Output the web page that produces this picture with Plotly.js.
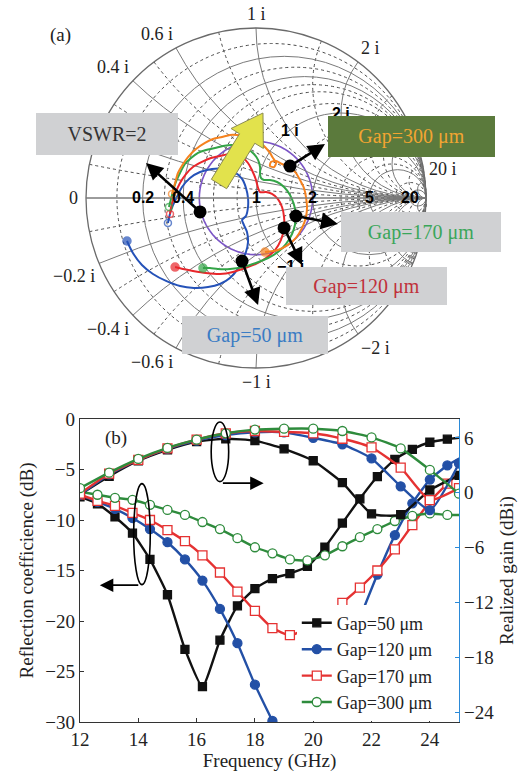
<!DOCTYPE html>
<html><head><meta charset="utf-8">
<script src="https://cdn.plot.ly/plotly-3.0.1.min.js"></script>
<style>html,body{margin:0;padding:0;background:#fff}#chart{width:530px;height:776px}</style>
</head><body><div id="chart"></div>
<script>
// ================= (b) data =================
const freqRefl = [12,12.6,13.2,13.8,14.4,15,15.6,16.2,16.8,17.4,18,18.6,19.2,19.8,20.4,21,21.6,22.2,22.8,23.4,24,24.6,25.2];
const freqGain = [12,13,14,15,16,17,18,19,20,21,22,23,24,25];
const refl50  = [-7.7,-8.4,-9.7,-11.3,-13.9,-17.4,-22.8,-26.5,-21.9,-18.5,-16.8,-15.8,-15.3,-14.6,-12.7,-10.3,-7.9,-5.7,-4.0,-3.0,-2.3,-2.0,-1.8];
const refl120 = [-7.5,-8.2,-8.9,-9.8,-10.9,-12.2,-13.9,-16.0,-18.8,-22.2,-26.3,-29.9,-33.5,null,null,null,-19.7,-15.4,-11.5,-8.35,-6.0,-4.6,-3.6];
const refl170 = [-7.5,-8.1,-8.6,-9.3,-10.0,-11.0,-12.1,-13.5,-15.2,-17.1,-19.0,-20.7,-21.4,-20.7,-19.6,-18.2,-16.7,-15.0,-12.9,-10.5,-8.2,-6.4,-4.8];
const refl300 = [-7.2,-7.5,-7.8,-8.0,-8.5,-9.0,-9.5,-10.2,-10.9,-11.8,-12.7,-13.3,-13.9,-14.0,-13.5,-12.6,-11.7,-10.9,-10.1,-9.6,-9.35,-9.5,-9.5];
const gain50  = [-0.2,1.8,3.5,4.7,5.6,5.9,5.7,4.8,3.5,1.1,-2.3,-2.4,0.3,1.9];
const gain120 = [-0.2,2.0,3.6,4.8,5.7,6.3,6.6,6.6,6.0,5.3,3.75,0.7,-1.9,3.2];
const gain170 = [-0.1,2.1,3.6,4.85,5.8,6.5,6.75,6.65,6.5,5.9,4.95,2.75,-0.8,0.5];
const gain300 = [0.5,2.2,3.7,4.9,5.8,6.5,6.9,7.0,7.0,6.75,6.05,4.85,2.5,-0.1];
const gapNames = ['Gap=50 μm','Gap=120 μm','Gap=170 μm','Gap=300 μm'];
const xTicks = [12,14,16,18,20,22,24];
const gainTicks = [-24,-18,-12,-6,0,6];

// ================= (a) data: reflection coefficient Γ (re, im) =================
const s11Gap300Re = [-0.494,-0.476,-0.459,-0.429,-0.4,-0.353,-0.3,-0.253,-0.2,-0.153,-0.112,-0.065,-0.018,0.024,0.053,0.082,0.1,0.118,0.106,0.082,0.088,0.118,0.153,0.2,0.235,0.259,0.282,0.294,0.3,0.294,0.271,0.235,0.188,0.129,0.053];
const s11Gap300Im = [0.024,0.088,0.147,0.2,0.241,0.288,0.324,0.347,0.359,0.371,0.371,0.365,0.347,0.329,0.3,0.265,0.235,0.206,0.182,0.188,0.212,0.218,0.2,0.182,0.147,0.106,0.059,0.006,-0.053,-0.112,-0.176,-0.235,-0.276,-0.306,-0.318];
const s11Gap170Re = [-0.512,-0.494,-0.476,-0.447,-0.418,-0.382,-0.341,-0.294,-0.241,-0.194,-0.141,-0.094,-0.047,-0.012,0.012,0.024,0.024,0.029,0.047,0.082,0.124,0.165,0.2,0.224,0.235,0.229,0.212,0.176,0.129,0.071,0,-0.076,-0.153,-0.224,-0.271,-0.312];
const s11Gap170Im = [-0.053,0.018,0.082,0.147,0.2,0.235,0.265,0.282,0.294,0.306,0.312,0.306,0.288,0.259,0.224,0.182,0.141,0.118,0.106,0.106,0.094,0.065,0.018,-0.041,-0.1,-0.159,-0.212,-0.271,-0.318,-0.353,-0.382,-0.406,-0.418,-0.418,-0.412,-0.412];
const s11Gap120Re = [-0.506,-0.494,-0.476,-0.447,-0.412,-0.371,-0.318,-0.265,-0.212,-0.159,-0.118,-0.082,-0.047,-0.024,0,0.012,0.024,0.059,0.094,0.129,0.153,0.165,0.165,0.147,0.112,0.059,0,-0.065,-0.135,-0.212,-0.294,-0.371,-0.429,-0.476];
const s11Gap120Im = [-0.094,-0.029,0.024,0.088,0.141,0.182,0.212,0.235,0.247,0.259,0.259,0.241,0.206,0.165,0.106,0.059,0.035,0.035,0.024,-0.006,-0.053,-0.112,-0.176,-0.247,-0.306,-0.353,-0.388,-0.412,-0.435,-0.447,-0.441,-0.429,-0.418,-0.406];
const s11Gap50Re = [-0.518,-0.5,-0.471,-0.435,-0.388,-0.329,-0.259,-0.188,-0.129,-0.082,-0.059,-0.047,-0.047,-0.059,-0.082,-0.071,-0.053,-0.047,-0.059,-0.082,-0.112,-0.153,-0.212,-0.282,-0.365,-0.447,-0.529,-0.606,-0.671,-0.724,-0.759];
const s11Gap50Im = [-0.147,-0.071,-0.006,0.065,0.118,0.153,0.171,0.171,0.153,0.112,0.059,0,-0.053,-0.106,-0.129,-0.159,-0.2,-0.259,-0.318,-0.371,-0.424,-0.471,-0.506,-0.524,-0.529,-0.518,-0.488,-0.447,-0.394,-0.324,-0.253];
// highlighted points (VSWR, Gap=300, Gap=170, Gap=120, Gap=50)
const dotRe = [-0.329,0.2,0.235,0.165,-0.082];
const dotIm = [-0.082,0.188,-0.106,-0.176,-0.371];
const vswr = 2;
const smithRealLabels = [0.2,0.4,1,2,5,20];
const smithImagLabels = [0,0.4,0.6,1,2,20,-0.2,-0.4,-0.6,-1,-2];
const smithInnerLabels = [1,2,-1];
const smithSolidReal = [0.2,0.4,1,2,5,20];
const smithSolidImag = [0,0.2,0.4,0.6,1,2,5,20,-0.2,-0.4,-0.6,-1,-2,-5,-20];
const smithDotReal = [0.1,0.3,0.5,0.6,0.8,1.5,3,4,10];
const smithDotImag = [0.1,0.3,0.5,0.8,1.5,3,4,10,-0.1,-0.3,-0.5,-0.8,-1.5,-3,-4,-10];

// ================= geometry helpers =================
const SERIF = 'Liberation Serif, Times New Roman, serif';
const SANS = 'Liberation Sans, Arial, sans-serif';
const L = 80, T = 28, W = 379, H = 694;
const smDom = {x:[6/379, 346/379], y:[354/694, 1]};
const cx = L + W*(smDom.x[0]+smDom.x[1])/2;
const cy = T + H*(1-(smDom.y[0]+smDom.y[1])/2);
const R = Math.min(W*(smDom.x[1]-smDom.x[0]), H*(smDom.y[1]-smDom.y[0]))/2;
const pX = px => (px-L)/W;
const pY = py => (T+H-py)/H;
const gPix = (re,im) => [cx+re*R, cy-im*R];
function gToZ(re,im){const d=(1-re)*(1-re)+im*im;return [(1-re*re-im*im)/d, 2*im/d];}
function zToG(r,x){const d=(r+1)*(r+1)+x*x;return [(r*r+x*x-1)/d, 2*x/d];}
function toZ(reArr,imArr){const r=[],x=[];reArr.forEach((g,i)=>{const z=gToZ(g,imArr[i]);r.push(z[0]);x.push(z[1]);});return {r,x};}

const traces = [];
// VSWR circle (on lower smith layer)
{
  const gm = (vswr-1)/(vswr+1); const re=[],im=[];
  for(let a=0;a<=360;a+=4){re.push(gm*Math.cos(a*Math.PI/180));im.push(gm*Math.sin(a*Math.PI/180));}
  const z = toZ(re,im);
  traces.push({type:'scattersmith',subplot:'smith',real:z.r,imag:z.x,mode:'lines',line:{color:'#7b55c6',width:1.6},showlegend:false,hoverinfo:'skip'});
}
const smithSeries = [
  {re:s11Gap50Re, im:s11Gap50Im, c:'#2552b8'},
  {re:s11Gap120Re, im:s11Gap120Im, c:'#e8262b'},
  {re:s11Gap170Re, im:s11Gap170Im, c:'#33a447'},
  {re:s11Gap300Re, im:s11Gap300Im, c:'#f5821f'}
];
smithSeries.forEach(s=>{
  const z = toZ(s.re,s.im); const n = s.re.length;
  const sizes = s.re.map((v,i)=> i===0?7:(i===n-1?8:0));
  const syms = s.re.map((v,i)=> i===0?'circle-open':'circle');
  traces.push({type:'scattersmith',subplot:'smith2',real:z.r,imag:z.x,mode:'lines+markers',
    line:{color:s.c,width:2,shape:'spline',smoothing:0.7},
    marker:{size:sizes,symbol:syms,color:s.c,line:{color:s.c,width:1.5}},showlegend:false,hoverinfo:'skip'});
});
{
  const z = toZ(dotRe,dotIm);
  traces.push({type:'scattersmith',subplot:'smith2',real:z.r,imag:z.x,mode:'markers',marker:{size:13,color:'#000'},showlegend:false,hoverinfo:'skip'});
}

// ================= (b) traces =================
const bCols = ['#111111','#2350a6','#e53232','#2e8b3c'];
const bSym = ['square','circle','square','circle'];
const bFill = ['#111111','#2350a6','#ffffff','#ffffff'];
const reflSets = [refl50,refl120,refl170,refl300];
const gainSets = [gain50,gain120,gain170,gain300];
reflSets.forEach((ys,i)=>{
  traces.push({type:'scatter',x:freqRefl,y:ys,xaxis:'x',yaxis:'y',name:gapNames[i],mode:'lines+markers',connectgaps:false,
    line:{color:bCols[i],width:2.4,shape:'spline',smoothing:0.5},
    marker:{symbol:bSym[i],size:i===0?8:9,color:bFill[i],line:{color:bCols[i],width:1.3}}});
});
gainSets.forEach((ys,i)=>{
  traces.push({type:'scatter',x:freqGain,y:ys,xaxis:'x',yaxis:'y2',name:gapNames[i],mode:'lines+markers',showlegend:false,
    line:{color:bCols[i],width:2.4,shape:'spline',smoothing:0.5},
    marker:{symbol:bSym[i],size:i===0?8:9,color:bFill[i],line:{color:bCols[i],width:1.3}}});
});

// ================= annotations =================
const ann = [];
ann.push({xref:'paper',yref:'paper',x:pX(48),y:pY(22),text:'(a)',showarrow:false,font:{family:SERIF,size:19,color:'#222'}});
ann.push({xref:'paper',yref:'paper',x:pX(103),y:pY(438),text:'(b)',showarrow:false,font:{family:SERIF,size:19,color:'#222'}});
// outer reactance labels
smithImagLabels.forEach(v=>{
  const g = zToG(0,v); const p = gPix(g[0],g[1]);
  const xa = g[0]<-0.3?'right':(g[0]>0.3?'left':'center');
  const ya = g[1]>0.05?'bottom':(g[1]<-0.05?'top':'middle');
  const txt = v===0?'0':((v<0?'−':'')+Math.abs(v)+' i');
  ann.push({xref:'paper',yref:'paper',x:pX(p[0]),y:pY(p[1]),text:txt,showarrow:false,xanchor:xa,yanchor:ya,
    xshift:(v===0?-6:g[0]*2),yshift:g[1]*2,font:{family:SERIF,size:18,color:'#222'}});
});
// real-axis and inner labels (bold)
smithRealLabels.forEach(r=>{
  const g = zToG(r,0); const p = gPix(g[0],g[1]);
  ann.push({xref:'paper',yref:'paper',x:pX(p[0]),y:pY(p[1]),text:'<b>'+r+'</b>',showarrow:false,xanchor:'center',yanchor:'middle',font:{family:SANS,size:16,color:'#000'}});
});
smithInnerLabels.forEach(v=>{
  const g = zToG(1,v); const p = gPix(g[0],g[1]);
  ann.push({xref:'paper',yref:'paper',x:pX(p[0]),y:pY(p[1]),text:'<b>'+(v<0?'−':'')+Math.abs(v)+' i</b>',showarrow:false,xanchor:'center',yanchor:'middle',font:{family:SANS,size:16,color:'#000'}});
});
// black arrows from highlighted points
const arrowVec = [[-54,-49],[35,-22],[42,8],[18,37],[16,44]];
dotRe.forEach((re,i)=>{
  const p = gPix(re,dotIm[i]); const hx = p[0]+arrowVec[i][0], hy = p[1]+arrowVec[i][1];
  ann.push({xref:'paper',yref:'paper',x:pX(hx),y:pY(hy),ax:-arrowVec[i][0],ay:-arrowVec[i][1],text:'',showarrow:true,
    arrowhead:2,arrowsize:1.3,arrowwidth:2.6,arrowcolor:'#000',standoff:0,startstandoff:0});
});
// label boxes
const boxes = [
  {t:'VSWR=2', x0:36,x1:178,y0:113,y1:155, bg:'#d0d1d3', fc:'#333333'},
  {t:'Gap=300 μm', x0:328,x1:495,y0:116,y1:157, bg:'#5b7a3c', fc:'#f2a531'},
  {t:'Gap=170 μm', x0:341,x1:501,y0:212,y1:252, bg:'#d0d1d3', fc:'#3aa65a'},
  {t:'Gap=120 μm', x0:286,x1:447,y0:267,y1:305, bg:'#d0d1d3', fc:'#c0313b'},
  {t:'Gap=50 μm', x0:182,x1:328,y0:316,y1:354, bg:'#d0d1d3', fc:'#3a7cc4'}
];
boxes.forEach(b=>{
  ann.push({xref:'paper',yref:'paper',x:pX((b.x0+b.x1)/2),y:pY((b.y0+b.y1)/2),xanchor:'center',yanchor:'middle',
    width:b.x1-b.x0,height:b.y1-b.y0,bgcolor:b.bg,borderpad:0,borderwidth:0,text:b.t,showarrow:false,
    font:{family:SERIF,size:20,color:b.fc}});
});
// (b) arrows
ann.push({xref:'x',yref:'y',axref:'x',ayref:'y',x:18.3,y:-6.35,ax:16.85,ay:-6.35,text:'',showarrow:true,arrowhead:2,arrowsize:1.5,arrowwidth:1.8,arrowcolor:'#000',standoff:0});
ann.push({xref:'x',yref:'y',axref:'x',ayref:'y',x:12.68,y:-16.45,ax:14.05,ay:-16.45,text:'',showarrow:true,arrowhead:2,arrowsize:1.5,arrowwidth:1.8,arrowcolor:'#000',standoff:0});

// ================= shapes =================
const shapes = [];
shapes.push({type:'circle',xref:'x',yref:'y',x0:16.5,x1:17.1,y0:-6.2,y1:-0.3,line:{color:'#000',width:1.6}});
shapes.push({type:'circle',xref:'x',yref:'y',x0:13.84,x1:14.41,y0:-16.4,y1:-6.4,line:{color:'#000',width:1.6}});
// yellow block arrow
{
  const base=[219,184], tip=[263,113];
  const dx=tip[0]-base[0], dy=tip[1]-base[1], len=Math.hypot(dx,dy);
  const ux=dx/len, uy=dy/len, nx=-uy, ny=ux;
  const neck=[tip[0]-ux*30, tip[1]-uy*30];
  const pts=[[base[0]+nx*9,base[1]+ny*9],[neck[0]+nx*9,neck[1]+ny*9],[neck[0]+nx*19,neck[1]+ny*19],tip,
             [neck[0]-nx*19,neck[1]-ny*19],[neck[0]-nx*9,neck[1]-ny*9],[base[0]-nx*9,base[1]-ny*9]];
  const path='M '+pts.map(q=>pX(q[0]).toFixed(4)+' '+pY(q[1]).toFixed(4)).join(' L ')+' Z';
  shapes.push({type:'path',xref:'paper',yref:'paper',path:path,fillcolor:'#e2e24c',line:{color:'#8c8c52',width:1},layer:'above'});
}

const layout = {
  width:530,height:776,margin:{l:L,r:71,t:T,b:54},paper_bgcolor:'#fff',plot_bgcolor:'#fff',
  font:{family:SERIF,size:18,color:'#222'},
  showlegend:true,
  legend:{x:0.572,y:0.002,xanchor:'left',yanchor:'bottom',bgcolor:'#fff',font:{family:SERIF,size:18,color:'#222'},tracegroupgap:0,itemwidth:30},
  smith:{domain:smDom,bgcolor:'#fff',
    realaxis:{tickvals:smithDotReal,showticklabels:false,ticks:'',gridcolor:'#4a4a4a',griddash:'dot',gridwidth:1,showline:false},
    imaginaryaxis:{tickvals:smithDotImag,showticklabels:false,ticks:'',gridcolor:'#4a4a4a',griddash:'dot',gridwidth:1,showline:false}},
  smith2:{domain:smDom,bgcolor:'rgba(0,0,0,0)',
    realaxis:{tickvals:smithSolidReal,showticklabels:false,ticks:'',gridcolor:'#7a7a7a',gridwidth:1,showline:true,linecolor:'#7a7a7a',linewidth:1},
    imaginaryaxis:{tickvals:smithSolidImag,showticklabels:false,ticks:'',gridcolor:'#7a7a7a',gridwidth:1,showline:true,linecolor:'#6a6a6a',linewidth:1.3}},
  xaxis:{domain:[0,1],anchor:'y',range:[12,25],tickvals:xTicks,ticks:'inside',ticklen:4,tickcolor:'#333',showline:true,linecolor:'#333',linewidth:1.3,mirror:true,
    showgrid:false,zeroline:false,tickfont:{family:SERIF,size:19,color:'#222'},
    title:{text:'Frequency (GHz)',font:{family:SERIF,size:19,color:'#222'},standoff:2}},
  yaxis:{domain:[0,303/694],anchor:'x',range:[-30,0],dtick:5,tick0:0,ticks:'inside',ticklen:4,tickcolor:'#333',showline:true,linecolor:'#333',linewidth:1.3,
    showgrid:false,zeroline:false,tickfont:{family:SERIF,size:19,color:'#222'},
    title:{text:'Reflection coefficience (dB)',font:{family:SERIF,size:19,color:'#222'},standoff:6}},
  yaxis2:{overlaying:'y',side:'right',anchor:'x',range:[-25.05,8.06],tickvals:gainTicks,ticks:'inside',ticklen:4,tickcolor:'#2b8ad8',showline:true,linecolor:'#2b8ad8',linewidth:1.3,
    showgrid:false,zeroline:false,tickfont:{family:SERIF,size:19,color:'#222'},
    title:{text:'Realized gain (dBi)',font:{family:SERIF,size:19,color:'#222'},standoff:6}},
  annotations:ann,shapes:shapes
};
Plotly.newPlot('chart',traces,layout,{displayModeBar:false,staticPlot:true});
</script></body></html>
